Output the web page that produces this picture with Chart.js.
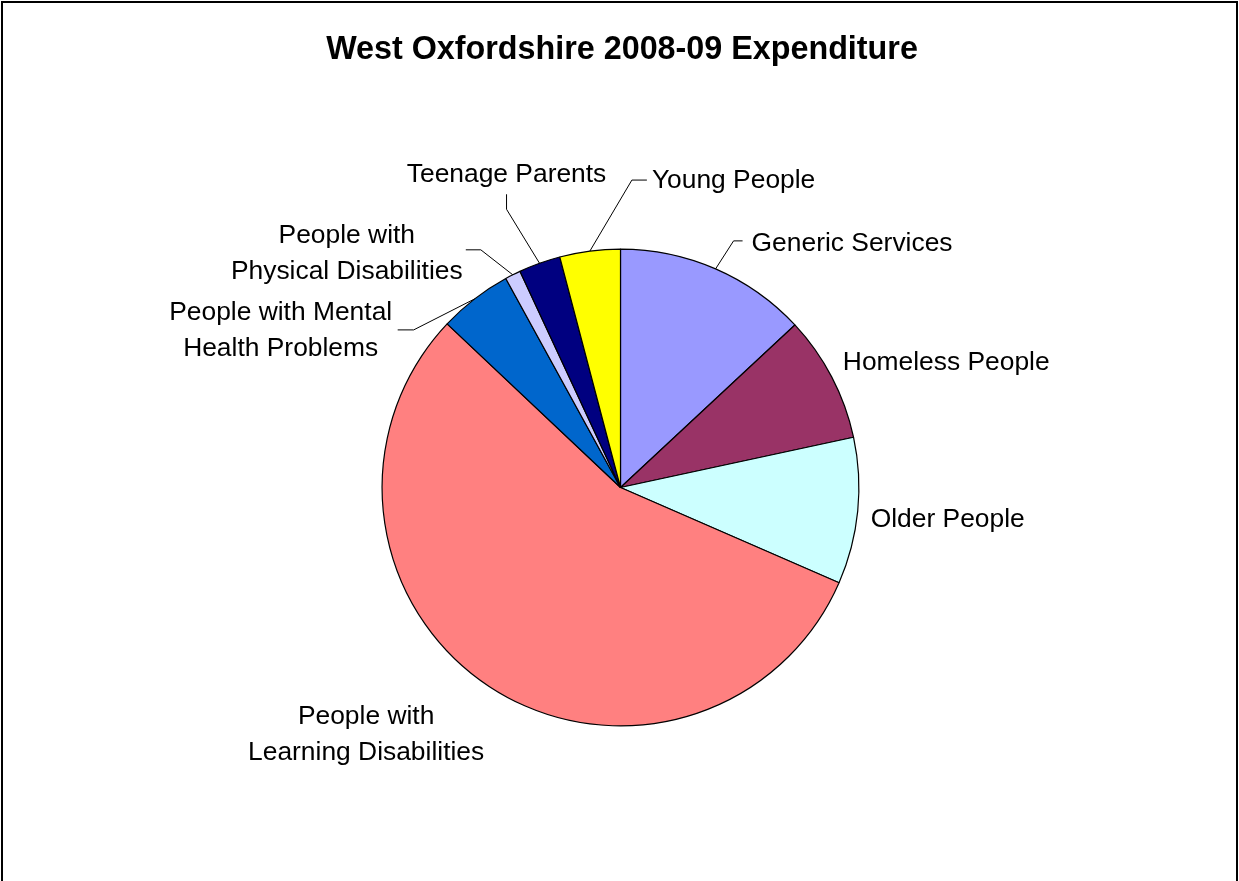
<!DOCTYPE html>
<html>
<head>
<meta charset="utf-8">
<title>West Oxfordshire 2008-09 Expenditure</title>
<script src="https://cdn.jsdelivr.net/npm/chart.js@4.4.1/dist/chart.umd.min.js"></script>
<style>
  html, body { margin: 0; padding: 0; background: #fff; }
  #wrap { position: relative; width: 1239px; height: 881px; }
</style>
</head>
<body>
<div id="wrap"><canvas id="spend-chart"></canvas></div>
<script>
const chartTitle = 'West Oxfordshire 2008-09 Expenditure';

const categories = [
  'Generic Services',
  'Homeless People',
  'Older People',
  'People with Learning Disabilities',
  'People with Mental Health Problems',
  'People with Physical Disabilities',
  'Teenage Parents',
  'Young People'
];

// share of spend, %
const spend = [13.06, 8.56, 9.92, 55.5, 4.97, 1.06, 2.83, 4.1];

const sliceColors = ['#9999FF', '#993366', '#CCFFFF', '#FF8080', '#0066CC', '#CCCCFF', '#000080', '#FFFF00'];

// how each category name is broken over lines on the chart
const labelLines = [
  ['Generic Services'],
  ['Homeless People'],
  ['Older People'],
  ['People with', 'Learning Disabilities'],
  ['People with Mental', 'Health Problems'],
  ['People with', 'Physical Disabilities'],
  ['Teenage Parents'],
  ['Young People']
];

// label placement relative to the middle of each slice's rim
const labelPlace = [
  { dx: 36, dy: -18, align: 'left', leader: [[18, -28], [27, -28]] },
  { dx: 11, dy: -7, align: 'left' },
  { dx: 13, dy: 16, align: 'left' },
  { dx: -123, dy: 38, align: 'center' },
  { dx: -194, dy: 21, align: 'center', leader: [[-61, 31], [-77, 31]] },
  { dx: -166, dy: -32, align: 'center', leader: [[-32, -25], [-47, -25]] },
  { dx: -33, dy: -81, align: 'center', leader: [[-33, -54], [-33, -69]] },
  { dx: 62, dy: -63, align: 'left', leader: [[42, -71], [57, -71]] }
];

const labelFont = '26.4px "Liberation Sans", Arial, sans-serif';
const lineGap = 36;

const outsideLabels = {
  id: 'outsideLabels',
  afterDraw(chart) {
    const ctx = chart.ctx;
    const arcs = chart.getDatasetMeta(0).data;
    ctx.save();

    // frame
    ctx.strokeStyle = '#000';
    ctx.lineWidth = 2;
    ctx.beginPath();
    ctx.moveTo(2, chart.height + 5);
    ctx.lineTo(2, 2);
    ctx.lineTo(chart.width - 2, 2);
    ctx.lineTo(chart.width - 2, chart.height + 5);
    ctx.stroke();

    // title
    ctx.fillStyle = '#000';
    ctx.font = 'bold 32.3px "Liberation Sans", Arial, sans-serif';
    ctx.textAlign = 'center';
    ctx.textBaseline = 'alphabetic';
    ctx.fillText(chartTitle, 622, 58.5);

    ctx.font = labelFont;
    arcs.forEach((arc, i) => {
      const { x, y, startAngle, endAngle, outerRadius } = arc.getProps(['x', 'y', 'startAngle', 'endAngle', 'outerRadius'], true);
      const mid = (startAngle + endAngle) / 2;
      const ax = x + Math.cos(mid) * outerRadius;
      const ay = y + Math.sin(mid) * outerRadius;
      const p = labelPlace[i];

      if (p.leader) {
        ctx.strokeStyle = '#000';
        ctx.lineWidth = 1;
        ctx.beginPath();
        ctx.moveTo(ax, ay);
        p.leader.forEach(([lx, ly]) => ctx.lineTo(ax + lx, ay + ly));
        ctx.stroke();
      }

      ctx.textAlign = p.align;
      labelLines[i].forEach((line, k) => {
        ctx.fillText(line, ax + p.dx, ay + p.dy + k * lineGap);
      });
    });
    ctx.restore();
  }
};

new Chart(document.getElementById('spend-chart'), {
  type: 'pie',
  data: {
    labels: categories,
    datasets: [{
      data: spend,
      backgroundColor: sliceColors,
      borderColor: '#000',
      borderWidth: 1.2
    }]
  },
  options: {
    responsive: true,
    maintainAspectRatio: false,
    animation: false,
    layout: {
      padding: { top: 248.5, bottom: 154.5, left: 381.5, right: 379.5 }
    },
    plugins: {
      legend: { display: false },
      tooltip: { enabled: false }
    }
  },
  plugins: [outsideLabels]
});
</script>
</body>
</html>
